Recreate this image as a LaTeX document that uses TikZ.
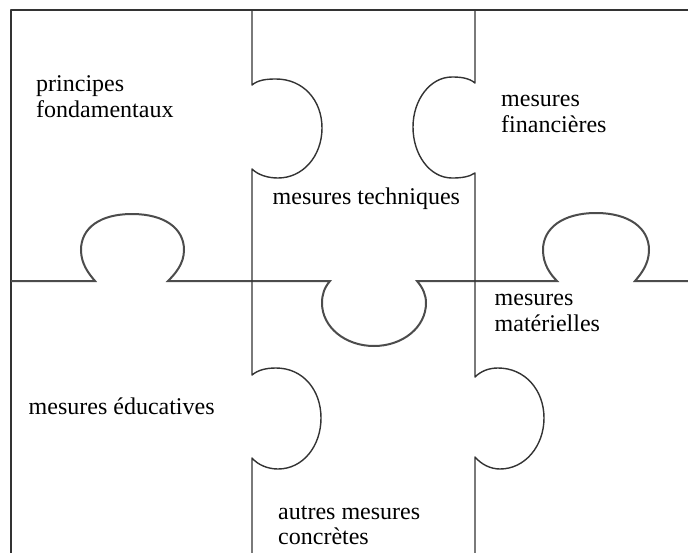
\documentclass[tikz,border=0pt]{standalone}
\usepackage{fontspec}
\setmainfont{Liberation Serif}
\tikzset{
  edge/.style={draw=black!80, line width=1.4pt, line join=round},
  seam/.style={draw=black!70, line width=2pt},
  lbl/.style={anchor=base west, inner sep=0pt, text=black, font=\fontsize{24}{26}\selectfont},
}
\begin{document}
\begin{tikzpicture}[x=1pt,y=-1pt]
\useasboundingbox (0,0) rectangle (688,552);
\fill[white] (0,0) rectangle (688,552);
\clip (0,0) rectangle (688,552);

% outer frame (top and left)
\draw[edge] (11,560) -- (11,10) -- (700,10);

% horizontal seam with three tabs
\draw[seam] (11,281) -- (95,281)
  .. controls (89,274) and (81,264) .. (81,250)
  .. controls (81,228) and (100,214) .. (132,214)
  .. controls (164,214) and (184,228) .. (184,250)
  .. controls (184,264) and (175,274) .. (168,281)
  -- (330,281)
  .. controls (324,288) and (322,295) .. (322,303)
  .. controls (322,327) and (345,346) .. (374,346)
  .. controls (403,346) and (426,327) .. (426,303)
  .. controls (426,295) and (423,288) .. (417,281)
  -- (557,281)
  .. controls (550,274) and (543,264) .. (543,250)
  .. controls (543,228) and (563,213) .. (596,213)
  .. controls (629,213) and (649,228) .. (649,250)
  .. controls (649,264) and (641,274) .. (635,281)
  -- (700,281);

% left vertical seam (x = 252), two tabs bulging right
\draw[edge] (252,10) -- (252,85)
  .. controls (258,80) and (266,79) .. (276,79)
  .. controls (303,79) and (322,100) .. (322,128)
  .. controls (322,156) and (303,178) .. (278,178)
  .. controls (268,178) and (258,175) .. (252,169)
  -- (252,375)
  .. controls (258,370) and (266,368) .. (276,368)
  .. controls (303,368) and (321,390) .. (321,418)
  .. controls (321,446) and (303,469) .. (278,469)
  .. controls (268,469) and (258,465) .. (252,458)
  -- (252,560);

% right vertical seam (x = 475), upper tab left, lower tab right
\draw[edge] (475,10) -- (475,83)
  .. controls (469,78) and (461,77) .. (452,77)
  .. controls (430,77) and (413,100) .. (413,127)
  .. controls (413,155) and (430,178) .. (452,178)
  .. controls (461,178) and (469,177) .. (475,173)
  -- (475,377)
  .. controls (481,371) and (489,368) .. (498,368)
  .. controls (525,368) and (544,390) .. (544,418)
  .. controls (544,446) and (525,469) .. (500,469)
  .. controls (490,469) and (481,464) .. (475,457)
  -- (475,560);

% labels
\node[lbl] (pf1) at (36,91.7) {principes};
\node[lbl] (pf2) at (36,117.5) {fondamentaux};
\node[lbl] (mf1) at (501,106) {mesures};
\node[lbl] (mf2) at (501,132.5) {financières};
\node[lbl] (mt) at (272.5,204) {mesures techniques};
\node[lbl] (mm1) at (494.5,305.7) {mesures};
\node[lbl] (mm2) at (494.5,331.7) {matérielles};
\node[lbl] (me) at (28.5,414) {mesures éducatives};
\node[lbl] (ac1) at (278,519) {autres mesures};
\node[lbl] (ac2) at (278,544.5) {concrètes};
\end{tikzpicture}
\end{document}
